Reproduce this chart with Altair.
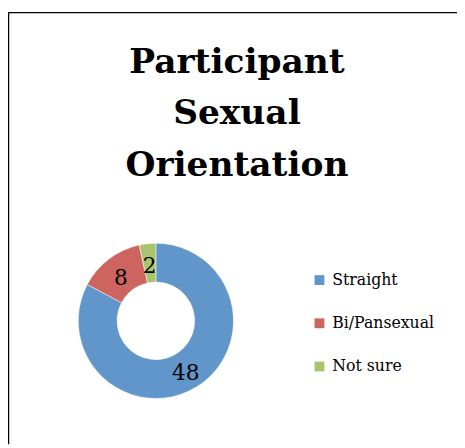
import altair as alt
import pandas as pd

title_lines = ["Participant", "Sexual", "Orientation"]
categories = ["Straight", "Bi/Pansexual", "Not sure"]
counts = [48, 8, 2]
colors = ["#6096CA", "#CD645F", "#A8C46C"]

df = pd.DataFrame({"cat": categories, "n": counts, "idx": list(range(len(categories)))})

W, H = 457, 440
CX, CY = 150.5, 314.5

color = alt.Color(
    "cat:N",
    scale=alt.Scale(domain=categories, range=colors),
    sort=categories,
    legend=alt.Legend(
        title=None,
        orient="none",
        legendX=309,
        legendY=265,
        symbolType="square",
        symbolSize=100,
        symbolStrokeWidth=0,
        labelFont="DejaVu Serif",
        labelFontSize=16,
        labelColor="#000000",
        labelOffset=5,
        rowPadding=28,
        padding=0,
    ),
)

base = alt.Chart(df)

arcs = base.mark_arc(innerRadius=39.5, outerRadius=79, stroke="white", strokeWidth=0.5).encode(
    theta=alt.Theta("n:Q", stack=True),
    order=alt.Order("idx:Q"),
    color=color,
    x=alt.value(CX),
    y=alt.value(CY),
)

labels = base.mark_text(
    radius=59, font="DejaVu Serif", fontSize=22, color="#000000", dy=3
).encode(
    theta=alt.Theta("n:Q", stack=True),
    order=alt.Order("idx:Q"),
    text=alt.Text("n:Q"),
    x=alt.value(CX),
    y=alt.value(CY),
)

title = alt.Chart(pd.DataFrame({"t": [0]})).mark_text(
    text=title_lines,
    font="DejaVu Serif",
    fontWeight="bold",
    fontSize=35,
    lineHeight=52.5,
    align="center",
    baseline="alphabetic",
    color="#000000",
).encode(x=alt.value(233), y=alt.value(62))

border_left = alt.Chart(pd.DataFrame({"t": [0]})).mark_rule(color="#000000", strokeWidth=1.5).encode(
    x=alt.value(0.5), y=alt.value(0.5), y2=alt.value(H)
)
border_top = alt.Chart(pd.DataFrame({"t": [0]})).mark_rule(color="#000000", strokeWidth=1.5).encode(
    x=alt.value(0), x2=alt.value(W), y=alt.value(0.8)
)

chart = alt.layer(border_left, border_top, arcs, labels, title).properties(
    width=W, height=H, padding=0, autosize=alt.AutoSizeParams(type="none"), background="white"
).configure_view(stroke=None)

chart.save("out.html", embed_options={"renderer": "svg", "actions": False})
